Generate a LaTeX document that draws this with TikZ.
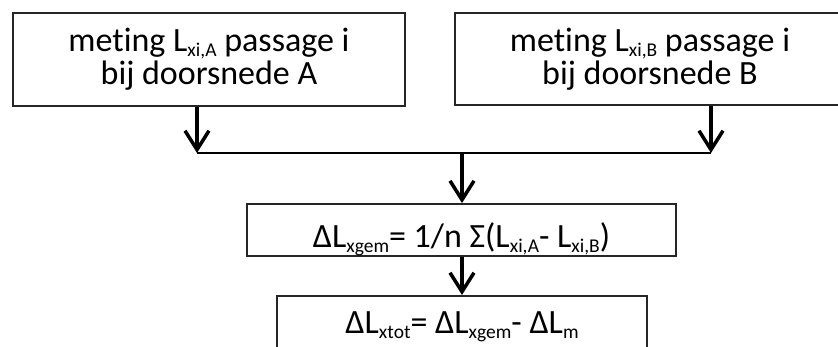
\documentclass[tikz,border=0pt]{standalone}
\usepackage{fontspec}
\setmainfont[Ligatures={NoCommon}]{Carlito}
\usetikzlibrary{arrows.meta}
\newcommand\lsb[1]{\raisebox{-5pt}{\fontsize{19.5}{19.5}\selectfont #1}}
\tikzset{
  box/.style={draw=black!85, line width=1.8pt, inner sep=0pt, align=center,
    font=\fontsize{34}{33}\selectfont},
  arr/.style={line width=3.5pt, -{Straight Barb[length=19pt, width=24pt, line width=3.5pt]}},
  joinline/.style={line width=2pt}
}
\begin{document}
\begin{tikzpicture}[x=1pt, y=-1pt]
\useasboundingbox (0,0) rectangle (838,347);
\clip (0,0) rectangle (838,347);
\node[box, minimum width=392pt, minimum height=93pt] (A) at (209,59.5)
  {meting L\lsb{xi,A} passage i\\bij doorsnede A};
\node[box, minimum width=390pt, minimum height=92pt] (B) at (650,59)
  {meting L\lsb{xi,B} passage i\\bij doorsnede B};
\coordinate (jA) at (197,153);
\coordinate (jB) at (711,153);
\coordinate (jM) at (462,153);
\node[box, minimum width=429pt, minimum height=52pt] (M) at (461.5,230)
  {\raisebox{-18pt}[0pt][0pt]{ΔL\lsb{xgem}= 1/n Σ(L\lsb{xi,A}- L\lsb{xi,B})}};
\node[box, minimum width=370pt, minimum height=80pt, anchor=north] (T) at (462,295)
  {\raisebox{2pt}[0pt][0pt]{ΔL\lsb{xtot}= ΔL\lsb{xgem}- ΔL\lsb{m}}};
\draw[joinline] (jA) -- (jB);
\draw[arr] (A.south -| jA) -- (jA);
\draw[arr] (B.south -| jB) -- (jB);
\draw[arr] (jM) -- (M.north -| jM);
\draw[arr] (M.south -| jM) -- (T.north -| jM);
\end{tikzpicture}
\end{document}
